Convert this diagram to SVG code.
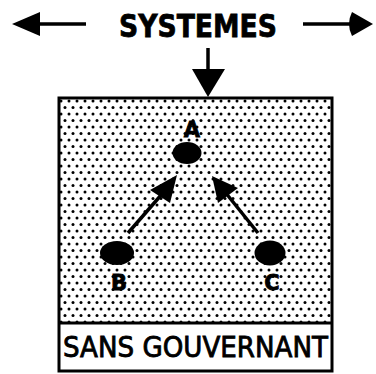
<svg xmlns="http://www.w3.org/2000/svg" width="376" height="374" viewBox="0 0 376 374">
<style>
.t{font-family:"DejaVu Sans","Liberation Sans",sans-serif;fill:#000}
.lbl{font-family:"DejaVu Sans","Liberation Sans",sans-serif;font-weight:bold;font-size:21px;fill:#000;text-anchor:middle;stroke:#000;stroke-width:0.8}
.ln{stroke:#000;stroke-width:3.5;fill:none}
.node{fill:#000}
</style>
<defs>
<pattern id="dots" width="8" height="13" patternUnits="userSpaceOnUse" x="59" y="98">
<rect width="8" height="13" fill="#fff"/>
<circle cx="2" cy="3" r="1.5" fill="#000"/>
<circle cx="6" cy="9.5" r="1.5" fill="#000"/>
</pattern>
</defs>
<rect width="376" height="374" fill="#fff"/>
<g id="title">
<text class="t" x="119" y="37" font-size="32" font-weight="bold" stroke="#000" stroke-width="0.8" textLength="158" lengthAdjust="spacingAndGlyphs">SYSTEMES</text>
</g>
<g id="box">
<rect x="59" y="98" width="273" height="225" fill="url(#dots)"/>
<rect x="59" y="98" width="273" height="273" fill="none" stroke="#000" stroke-width="3"/>
<line x1="59" y1="323" x2="332" y2="323" stroke="#000" stroke-width="3"/>
<text class="t" x="63" y="357" font-size="29" stroke="#000" stroke-width="0.9" textLength="265" lengthAdjust="spacingAndGlyphs">SANS GOUVERNANT</text>
</g>
<g id="A">
<ellipse class="node" cx="187" cy="153" rx="14.5" ry="11"/>
<text class="lbl" x="192" y="137">A</text>
</g>
<g id="B">
<ellipse class="node" cx="117" cy="253" rx="17" ry="12"/>
<text class="lbl" x="119" y="290">B</text>
</g>
<g id="C">
<ellipse class="node" cx="270" cy="253" rx="15.5" ry="12.5"/>
<text class="lbl" x="272" y="290">C</text>
</g>
<g id="connectors">
<line class="ln" x1="37" y1="24" x2="86" y2="24"/>
<path d="M12,24 L40,12 L40,36 Z" fill="#000"/>
<line class="ln" x1="303" y1="24" x2="352" y2="24"/>
<path d="M373,24 L352,12 Q346,24 352,36 Z" fill="#000"/>
<line class="ln" x1="208" y1="48" x2="208" y2="72"/>
<path d="M208,97 L192,69 L225,69 Z" fill="#000"/>
<line class="ln" x1="128" y1="233" x2="162" y2="194"/>
<path d="M177,175 L150,190 L170,203 Z" fill="#000"/>
<line class="ln" x1="258" y1="233" x2="225" y2="192"/>
<path d="M212,176 L218,203 L238,188 Z" fill="#000"/>
</g>
</svg>
